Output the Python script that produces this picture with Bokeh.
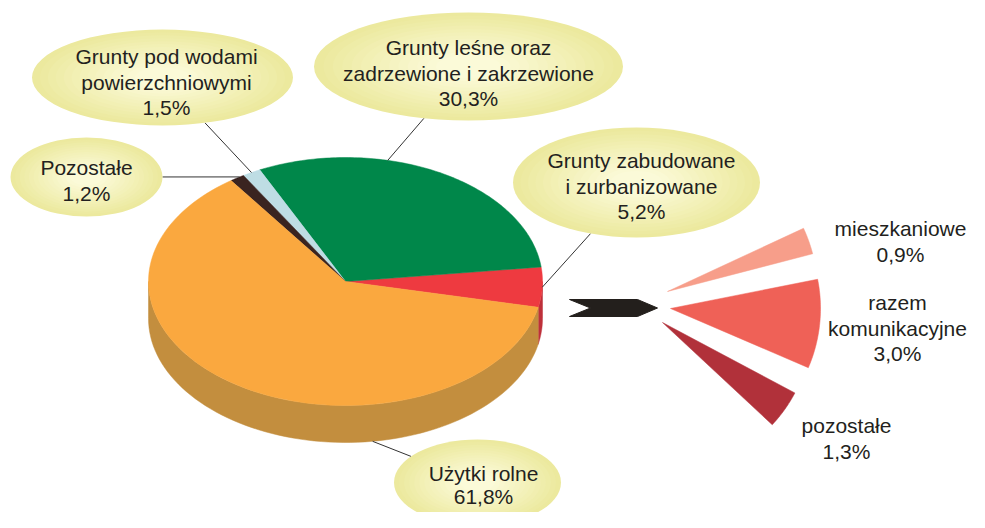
import numpy as np
from bokeh.plotting import figure
from bokeh.models import Range1d
from bokeh.embed import file_html
from bokeh.resources import INLINE
from bokeh.core.properties import value

# ---------------- data ----------------
main_names = ["Grunty zabudowane\ni zurbanizowane",
              "Grunty leśne oraz\nzadrzewione i zakrzewione",
              "Grunty pod wodami\npowierzchniowymi",
              "Pozostałe",
              "Użytki rolne"]
main_values = [5.2, 30.3, 1.5, 1.2, 61.8]

sub_names = ["mieszkaniowe", "razem\nkomunikacyjne", "pozostałe"]
sub_values = [0.9, 3.0, 1.3]

# ---------------- style / layout ----------------
top_colors = ["#EE3A40", "#00874A", "#BEDDE4", "#3A2420", "#FAA83F"]
side_colors = ["#BE303A", "#006A3A", "#9AB8BF", "#2A1A17", "#C38E3E"]
sub_colors = ["#F79E8A", "#EF6157", "#B1313A"]

W, H = 969, 512
CX, CY, RX, RY, DEPTH = 345.0, 281.0, 197.0, 124.0, 37.0
START = -12.0

# bubble layout (cx, cy, w, h), text centre x, first line y, line height
bubbles = [
    (636, 182, 247, 110, 641, 160, 25.5),
    (468, 66, 309, 108, 468, 47, 25.5),
    (162, 77, 261, 96, 166, 56, 25.5),
    (86, 176.5, 152, 79, 86, 167, 25.5),
    (477, 482, 167, 86, 483, 473, 23.0),
]
leader_frac = [0.5, 0.65, 0.5, 0.3, 0.685]
LINE_H = 25.5

sub_apex = [(667, 291), (670, 308), (662, 322)]
sub_mid = [19.75, -6.0, -35.5]
SUB_R = 150.0
DEG_PER_PCT = 11.5
sub_text = [(900, 228), (897, 302), (846, 425)]

FONT = value("Liberation Sans")
TXT = "#231F20"

def fmt(v):
    return ("%.1f" % v).replace(".", ",") + "%"

def pt(t, dy=0.0):
    r = np.radians(t)
    return CX + RX * np.cos(r), CY - RY * np.sin(r) + dy

p = figure(width=W, height=H, x_range=Range1d(0, W), y_range=Range1d(H, 0),
           output_backend="svg", toolbar_location=None, min_border=0)
p.axis.visible = False
p.grid.visible = False
p.outline_line_color = None
p.background_fill_color = "white"

# slice angles
total = sum(main_values)
angles = []
a = START
for v in main_values:
    b = a + v / total * 360.0
    angles.append((a, b))
    a = b

# sides (front half)
side_xs, side_ys, side_cols = [], [], []
for (a, b), col in zip(angles, side_colors):
    for lo, hi in [(-180, 0), (180, 360), (540, 720)]:
        s, e = max(a, lo), min(b, hi)
        if e > s:
            t = np.linspace(s, e, 80)
            x1, y1 = pt(t)
            x2, y2 = pt(t[::-1], DEPTH)
            side_xs.append(list(np.concatenate([x1, x2])))
            side_ys.append(list(np.concatenate([y1, y2])))
            side_cols.append(col)
p.patches(side_xs, side_ys, fill_color=side_cols, line_color=side_cols, line_width=0.5)

# top faces
top_xs, top_ys = [], []
for (a, b) in angles:
    t = np.linspace(a, b, 120)
    x, y = pt(t)
    top_xs.append([CX] + list(x))
    top_ys.append([CY] + list(y))
p.patches(top_xs, top_ys, fill_color=top_colors, line_color=top_colors, line_width=0.5)

# leader lines
lx0, ly0, lx1, ly1 = [], [], [], []
for i, ((a, b), f) in enumerate(zip(angles, leader_frac)):
    t = a + (b - a) * f
    dy = DEPTH if np.sin(np.radians(t)) < 0 and i == 4 else 0.0
    ex, ey = pt(t, dy)
    bx, by, bw, bh = bubbles[i][:4]
    dx, dyy = ex - bx, ey - by
    s = 1.0 / np.sqrt((dx / (bw / 2)) ** 2 + (dyy / (bh / 2)) ** 2)
    lx0.append(bx + s * dx); ly0.append(by + s * dyy)
    lx1.append(ex); ly1.append(ey)
p.segment(lx0, ly0, lx1, ly1, line_color="#333333", line_width=1)

# bubbles with radial gradient
edge = np.array([0xEC, 0xE9, 0x9E])
centre = np.array([0xFB, 0xFA, 0xD8])
n = 14
for k in range(n):
    f = 1.0 - k / n * 0.85
    c = edge + (centre - edge) * (k / (n - 1))
    col = "#%02x%02x%02x" % tuple(int(round(v)) for v in c)
    p.ellipse([b[0] for b in bubbles], [b[1] for b in bubbles],
              width=[b[2] * f for b in bubbles], height=[b[3] * f for b in bubbles],
              fill_color=col, line_color=None)

# bubble texts
tx, ty, tt = [], [], []
for name, v, bb in zip(main_names, main_values, bubbles):
    lines = name.split("\n") + [fmt(v)]
    for j, line in enumerate(lines):
        tx.append(bb[4]); ty.append(bb[5] + j * bb[6]); tt.append(line)
p.text(tx, ty, text=tt, text_font=FONT, text_font_size="21px", text_color=TXT,
       text_align="center", text_baseline="middle")

# arrow
p.patch([569, 637, 657, 637, 569, 590], [299, 299, 307.5, 316, 316, 307.5],
        fill_color="#231F1C", line_color="#231F1C")

# sub wedges
sxs, sys_ = [], []
for (axp, ayp), m, v in zip(sub_apex, sub_mid, sub_values):
    span = v * DEG_PER_PCT
    t = np.radians(np.linspace(m - span / 2, m + span / 2, 40))
    sxs.append([axp] + list(axp + SUB_R * np.cos(t)))
    sys_.append([ayp] + list(ayp - SUB_R * np.sin(t)))
p.patches(sxs, sys_, fill_color=sub_colors, line_color=sub_colors, line_width=0.5)

# sub texts
tx, ty, tt = [], [], []
for name, v, (x0, y0) in zip(sub_names, sub_values, sub_text):
    lines = name.split("\n") + [fmt(v)]
    for j, line in enumerate(lines):
        tx.append(x0); ty.append(y0 + j * LINE_H); tt.append(line)
p.text(tx, ty, text=tt, text_font=FONT, text_font_size="21px", text_color=TXT,
       text_align="center", text_baseline="middle")

open("out.html", "w").write(file_html(p, INLINE))
